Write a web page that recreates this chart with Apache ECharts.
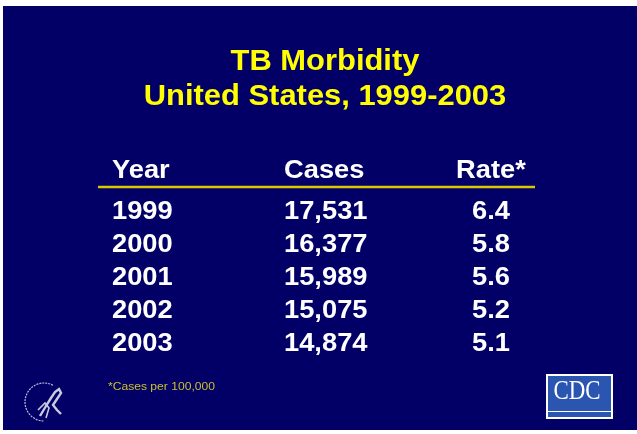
<!DOCTYPE html>
<html>
<head>
<meta charset="utf-8">
<style>
  html, body { margin: 0; padding: 0; background: #fff; }
  #main { width: 637px; height: 434px; }
</style>
<script src="https://cdn.jsdelivr.net/npm/echarts@6/dist/echarts.min.js"></script>
</head>
<body>
<div id="main"></div>
<script>
// 表格数据
var titleLines = ["TB Morbidity", "United States, 1999-2003"];
var headers = ["Year", "Cases", "Rate*"];
var years = ["1999", "2000", "2001", "2002", "2003"];
var cases = ["17,531", "16,377", "15,989", "15,075", "14,874"];
var rates = ["6.4", "5.8", "5.6", "5.2", "5.1"];
var footnote = "*Cases per 100,000";

var myChart = echarts.init(document.getElementById("main"));

var font = "Arial, 'Liberation Sans', Helvetica, sans-serif";
var colX = [112, 284, 491];
var colAlign = ["left", "left", "center"];

var elements = [];

// 背景
elements.push({
  type: "rect",
  shape: {x: 3, y: 6, width: 634, height: 424},
  style: {fill: "#020066"}
});

// 标题
for (var t = 0; t < titleLines.length; t++) {
  elements.push({
    type: "text",
    x: 325, y: 62 + t * 35,
    scaleX: 1.03,
    style: {
      text: titleLines[t], fill: "#ffff00", align: "center", verticalAlign: "middle",
      font: "bold 30px " + font
    }
  });
}

// 表头
for (var h = 0; h < headers.length; h++) {
  elements.push({
    type: "text",
    x: colX[h], y: 171,
    scaleX: 1.05,
    style: {
      text: headers[h], fill: "#ffffff", align: colAlign[h], verticalAlign: "middle",
      font: "bold 26px " + font
    }
  });
}

// 黄色分隔线
elements.push({
  type: "line",
  shape: {x1: 98, y1: 187, x2: 535, y2: 187},
  style: {stroke: "#d8c800", lineWidth: 2.5}
});

// 数据行
var cols = [years, cases, rates];
for (var i = 0; i < years.length; i++) {
  for (var c = 0; c < cols.length; c++) {
    elements.push({
      type: "text",
      x: colX[c], y: 212 + i * 33,
      scaleX: 1.05,
      style: {
        text: cols[c][i], fill: "#ffffff", align: colAlign[c], verticalAlign: "middle",
        font: "bold 26px " + font
      }
    });
  }
}

// 脚注
elements.push({
  type: "text",
  x: 108, y: 387,
  scaleX: 1.1,
  style: {
    text: footnote, fill: "#c8c030", align: "left", verticalAlign: "middle",
    font: "11px " + font
  }
});

// HHS 标志（简化）
elements.push({
  type: "arc",
  shape: {cx: 44, cy: 402, r: 19, startAngle: 1.6, endAngle: 5.2},
  style: {stroke: "#b8bcd8", lineWidth: 1.2, lineDash: [2, 1], fill: null}
});
elements.push({
  type: "polyline",
  shape: {points: [[40, 416], [46, 406], [51, 398], [55, 392], [59, 389], [61, 393], [57, 399], [53, 405], [57, 410], [61, 414]]},
  style: {stroke: "#c8cce0", lineWidth: 2.4, fill: null}
});
elements.push({
  type: "polyline",
  shape: {points: [[38, 410], [45, 403], [49, 408], [46, 418]]},
  style: {stroke: "#c8cce0", lineWidth: 1.6, fill: null}
});

// CDC 标志
elements.push({
  type: "rect",
  shape: {x: 546, y: 374, width: 67, height: 45},
  style: {fill: "#ffffff"}
});
elements.push({
  type: "rect",
  shape: {x: 548, y: 376, width: 63, height: 35},
  style: {fill: "#2a55b0"}
});
elements.push({
  type: "rect",
  shape: {x: 548, y: 412, width: 63, height: 5},
  style: {fill: "#2a55b0"}
});
elements.push({
  type: "text",
  x: 577, y: 392,
  scaleX: 0.85,
  style: {
    text: "CDC", fill: "#ffffff", align: "center", verticalAlign: "middle",
    font: "27px 'Liberation Serif', 'DejaVu Serif', serif"
  }
});

var option = {
  backgroundColor: "#ffffff",
  graphic: {elements: elements}
};

myChart.setOption(option);
window.onresize = myChart.resize;
</script>
</body>
</html>
